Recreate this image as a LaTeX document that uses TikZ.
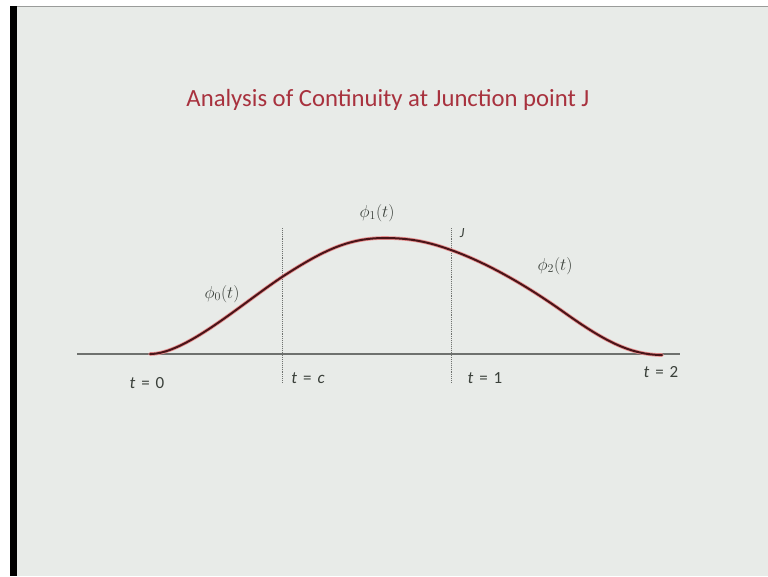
\documentclass[tikz,border=0pt]{standalone}
\usepackage{fontspec}
\setmainfont{Carlito}
\definecolor{bgc}{HTML}{E8EBE8}
\definecolor{titlec}{HTML}{A8323E}
\definecolor{curvec}{HTML}{4A1418}
\definecolor{haloc}{HTML}{E89090}
\definecolor{axisc}{HTML}{6E716E}
\definecolor{labc}{HTML}{3A403A}
\newcommand{\eqsp}{\hspace{0.35em}}
\begin{document}
\begin{tikzpicture}[x=1pt,y=-1pt,
  lab/.style={text=labc,font=\fontsize{18}{20}\selectfont,inner sep=0pt},
  tlab/.style={text=labc,font=\fontsize{17}{20}\selectfont,inner sep=0pt},
  guide/.style={axisc,densely dotted,line width=0.9pt}]
\useasboundingbox (0,0) rectangle (768,576);
\fill[white] (0,0) rectangle (768,576);
\fill[bgc] (10,6) rectangle (768,576);
\fill[black] (10,6) rectangle (17,576);
\draw[axisc!70,line width=1pt] (17,6.5) -- (768,6.5);
% title
\node[text=titlec,font=\fontsize{24.7}{28}\selectfont,inner sep=0pt] (title) at (388,100) {Analysis of Continuity at Junction point J};
% axis
\coordinate (ax0) at (77,354);
\coordinate (ax1) at (680,354);
\draw[axisc,line width=1.4pt] (ax0) -- (ax1);
% guides
\coordinate (gc0) at (282,228); \coordinate (gc1) at (282,382);
\coordinate (gj0) at (451,228); \coordinate (gj1) at (451,382);
\draw[guide] (gc0) -- (gc1);
\draw[guide] (gj0) -- (gj1);
% curve
\coordinate (p0) at (150,354);
\coordinate (pc) at (282,277);
\coordinate (pk) at (385,238);
\coordinate (pj) at (451,250);
\coordinate (pm) at (565,313);
\coordinate (p2) at (662,355);
\foreach \w/\c in {3.6pt/haloc,2pt/curvec}{
\draw[\c,line width=\w,line cap=round] (p0) .. controls (185,354) and (240,305) .. (pc)
  .. controls (325,249) and (350,238) .. (pk)
  .. controls (415,238) and (434,244) .. (pj)
  .. controls (490,264) and (530,288) .. (pm)
  .. controls (603,340) and (630,355) .. (p2);
}
% labels
\node[lab] (l0) at (222,294) {$\phi_0(t)$};
\node[lab] (l1) at (377,213) {$\phi_1(t)$};
\node[lab] (l2) at (555,266) {$\phi_2(t)$};
\node[lab,font=\fontsize{14}{16}\selectfont\itshape] (lj) at (462,233) {J};
\node[tlab] (t0) at (147,383) {\textit{t}\eqsp=\eqsp0};
\node[tlab] (tc) at (308,378) {\textit{t}\eqsp=\eqsp\textit{c}};
\node[tlab] (t1) at (485,378) {\textit{t}\eqsp=\eqsp1};
\node[tlab] (t2) at (661,372) {\textit{t}\eqsp=\eqsp2};
\end{tikzpicture}
\end{document}
